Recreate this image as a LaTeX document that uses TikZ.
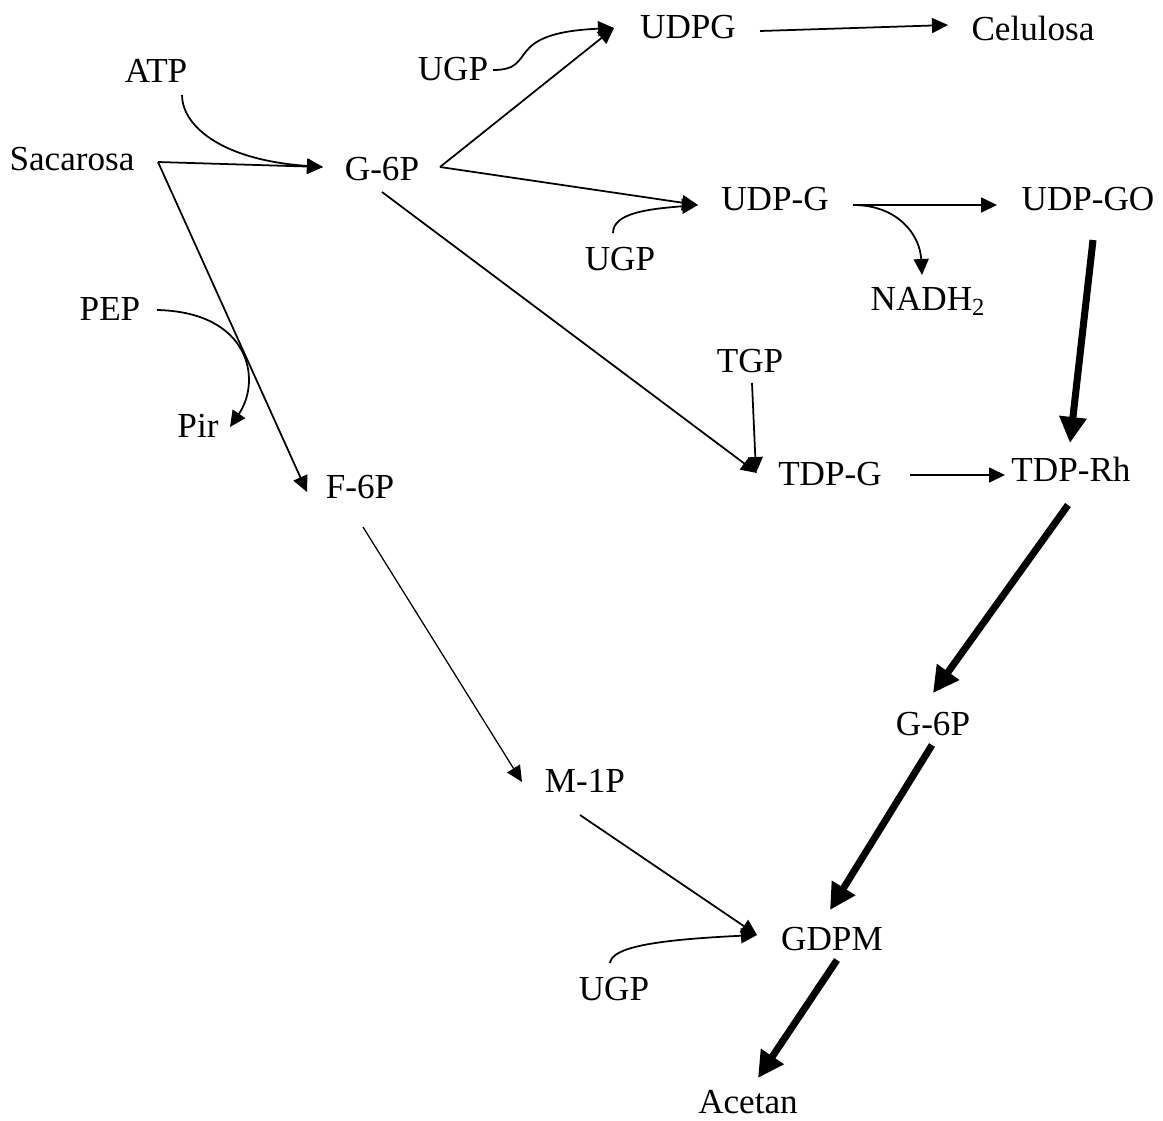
\documentclass[tikz,border=0pt]{standalone}
\usepackage{fontspec}
\setmainfont{Liberation Serif}
\usetikzlibrary{arrows.meta}

\begin{document}
\begin{tikzpicture}[
    x=0.02cm, y=0.02cm,
    lbl/.style={inner sep=0pt, anchor=base, font=\fontsize{20}{24}\selectfont},
    conn/.style={-{Triangle[length=0.32cm, width=0.3cm]}, line width=1pt},
    fine/.style={conn, line width=0.7pt},
    heavy/.style={-{Triangle[length=0.52cm, width=0.52cm]}, line width=4pt}
]
\useasboundingbox (0,0) rectangle (1163,-1120);

% --- Left column: sources ---
\node[lbl] (atp) at (156,-82)  {ATP};
\node[lbl] (sac) at (72,-170)  {Sacarosa};
\node[lbl] (pep) at (110,-320) {PEP};
\node[lbl] (pir) at (198,-437) {Pir};
\node[lbl] (fsp) at (360,-498) {F-6P};

% --- Upper branch ---
\node[lbl] (gsp)   at (382,-180)  {G-6P};
\node[lbl] (ugpa)  at (453,-80)   {UGP};
\node[lbl] (udpg)  at (688,-38)   {UDPG};
\node[lbl] (cel)   at (1033,-40)  {Celulosa};
\node[lbl] (udpgl) at (775,-210)  {UDP-G};
\node[lbl] (ugpb)  at (620,-270)  {UGP};
\node[lbl] (udpgo) at (1088,-210) {UDP-GO};
\node[lbl] (nadh)  at (928,-310)  {NADH\textsubscript{2}};

% --- Middle / lower ---
\node[lbl] (tgp)    at (750,-372)  {TGP};
\node[lbl] (tdpg)   at (830,-485)  {TDP-G};
\node[lbl] (tdprh)  at (1071,-481) {TDP-Rh};
\node[lbl] (gspb)   at (933,-735)  {G-6P};
\node[lbl] (mip)    at (585,-792)  {M-1P};
\node[lbl] (gdpm)   at (832,-950)  {GDPM};
\node[lbl] (ugpc)   at (614,-1000) {UGP};
\node[lbl] (acetan) at (748,-1113) {Acetan};

% === Transitions ===
\draw[conn] ([shift={(26,-13)}]atp.base) .. controls +(0,-30) and +(-103,7) .. ([shift={(-59,13)}]gsp.base);
\draw[conn] ([shift={(86,8)}]sac.base) -- ([shift={(-59,13)}]gsp.base);
\draw[conn] ([shift={(86,8)}]sac.base) -- ([shift={(-53,6)}]fsp.base);
\draw[conn] ([shift={(47,10)}]pep.base) .. controls +(93,-2) and +(32,47) .. ([shift={(32,10)}]pir.base);

% G-6P branches
\draw[conn] ([shift={(58,13)}]gsp.base) -- ([shift={(-74,10)}]udpg.base);
\draw[conn] ([shift={(58,13)}]gsp.base) -- ([shift={(-77,5)}]udpgl.base);
\draw[conn] ([shift={(0,-12)}]gsp.base) -- ([shift={(-73,12)}]tdpg.base);

% cofactors
\draw[conn] ([shift={(40,10)}]ugpa.base) .. controls +(47,0) and +(-114,-5) .. ([shift={(-74,10)}]udpg.base);
\draw[conn] ([shift={(-7,37)}]ugpb.base) .. controls +(0,20) and +(-50,-4) .. ([shift={(-77,5)}]udpgl.base);
\draw[conn] ([shift={(2,-11)}]tgp.base) -- ([shift={(-74,12)}]tdpg.base);
\draw[conn] ([shift={(-4,37)}]ugpc.base) .. controls +(2,15) and +(-107,-5) .. ([shift={(-75,15)}]gdpm.base);

% straight steps
\draw[conn] ([shift={(72,7)}]udpg.base) -- ([shift={(-85,15)}]cel.base);
\draw[conn] ([shift={(78,5)}]udpgl.base) -- ([shift={(-91,5)}]udpgo.base);
\draw[conn] ([shift={(78,5)}]udpgl.base) .. controls +(45,0) and +(-2,40) .. ([shift={(-6,35)}]nadh.base);
\draw[conn] ([shift={(80,10)}]tdpg.base) -- ([shift={(-66,6)}]tdprh.base);
\draw[fine] ([shift={(3,-29)}]fsp.base) -- ([shift={(-63,10)}]mip.base);
\draw[conn] ([shift={(-5,-23)}]mip.base) -- ([shift={(-75,15)}]gdpm.base);

% === Main route (heavy) ===
\draw[heavy] ([shift={(5,-30)}]udpgo.base) -- ([shift={(-1,38)}]tdprh.base);
\draw[heavy] ([shift={(-3,-24)}]tdprh.base) -- ([shift={(0,42)}]gspb.base);
\draw[heavy] ([shift={(-1,-10)}]gspb.base) -- ([shift={(-2,40)}]gdpm.base);
\draw[heavy] ([shift={(5,-10)}]gdpm.base) -- ([shift={(10,35)}]acetan.base);

\end{tikzpicture}
\end{document}
